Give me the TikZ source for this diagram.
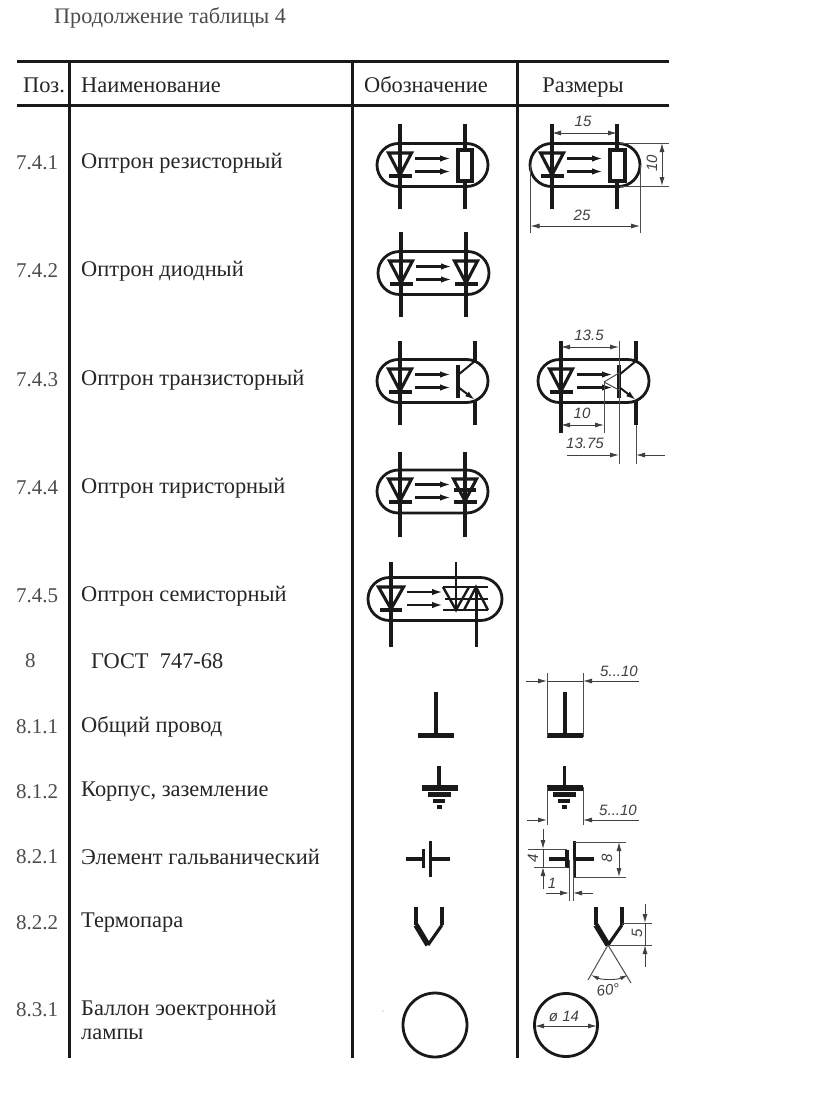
\documentclass[tikz,border=0pt]{standalone}
\usepackage{fontspec}
\setmainfont{Liberation Serif}
\setsansfont{Liberation Sans}
\usetikzlibrary{arrows.meta}
\tikzset{
 thick line/.style={line width=3pt,black!90},
 sym/.style={line width=3.1pt,black!90},
 thin sym/.style={line width=1pt,black!70},
 dim/.style={line width=0.9pt,black!75,{Latex[length=9pt,width=5pt]}-{Latex[length=9pt,width=5pt]}},
 dimone/.style={line width=0.9pt,black!75,-{Latex[length=9pt,width=5pt]}},
 ray/.style={line width=2.5pt,black!90,-{Latex[length=11pt,width=6.5pt]}},
 dimtext/.style={font=\sffamily\itshape\fontsize{15}{15}\selectfont,text=black!75,inner sep=0pt},
 txt/.style={font=\fontsize{22.4}{24}\selectfont,text=black!85,anchor=west,inner sep=0pt},
 numtxt/.style={font=\fontsize{21}{24}\selectfont,text=black!70,anchor=west,inner sep=0pt},
 head/.style={font=\fontsize{22.4}{24}\selectfont,text=black!85,anchor=base,inner sep=0pt},
 capt/.style={font=\fontsize{22.2}{24}\selectfont,text=black!70,anchor=west,inner sep=0pt},
}
\newcommand{\capsule}[3]{% left x, right x, center y (half height 21.5)
  \draw[sym,line width=2.8pt] (#1+21.5,#3-21.5) -- (#2-21.5,#3-21.5) arc[start angle=-90,end angle=90,radius=21.5] -- (#1+21.5,#3+21.5) arc[start angle=90,end angle=270,radius=21.5];}
\newcommand{\diodeV}[2]{% x, center y
  \draw[sym] (#1-11.5,#2-12) -- (#1+11.5,#2-12) -- (#1,#2+10) -- cycle;
  \draw[sym] (#1-11.5,#2+11) -- (#1+11.5,#2+11);}
\newcommand{\rays}[2]{% left x, center y
  \draw[ray] (#1,#2-6.5) -- (#1+36,#2-6.5);
  \draw[ray] (#1,#2+6.5) -- (#1+36,#2+6.5);}
\begin{document}
\begin{tikzpicture}[x=1pt,y=-1pt]
\useasboundingbox (0,0) rectangle (816,1095);
\fill[white] (0,0) rectangle (816,1095);
% table
\coordinate (hl) at (17,61); \coordinate (hr) at (669,61);
\coordinate (h2l) at (17,105); \coordinate (h2r) at (669,105);
\draw[thick line] (hl) -- (hr);
\draw[thick line] (h2l) -- (h2r);
\draw[thick line] (69,61) -- (69,1058);
\draw[thick line] (352,61) -- (352,1058);
\draw[thick line] (517,61) -- (517,1058);
% texts
\node[capt] (t0) at (54,18) {Продолжение таблицы 4};
\node[head] (h1) at (44,92) {Поз.};
\node[txt,anchor=base west] (h2) at (81,92) {Наименование};
\node[head] (h3) at (426,92) {Обозначение};
\node[head] (h4) at (583,92) {Размеры};
\node[numtxt] (r1n) at (16,163) {7.4.1};
\node[txt] (r1) at (81,163) {Оптрон резисторный};
\node[numtxt] (r2n) at (16,271) {7.4.2};
\node[txt] (r2) at (81,271) {Оптрон диодный};
\node[numtxt] (r3n) at (16,380) {7.4.3};
\node[txt] (r3) at (81,380) {Оптрон транзисторный};
\node[numtxt] (r4n) at (16,488) {7.4.4};
\node[txt] (r4) at (81,488) {Оптрон тиристорный};
\node[numtxt] (r5n) at (16,596) {7.4.5};
\node[txt] (r5) at (81,596) {Оптрон семисторный};
\node[numtxt] (r6n) at (25,661) {8};
\node[txt] (r6) at (91,661) {ГОСТ\ \ 747-68};
\node[numtxt] (r7n) at (16,727) {8.1.1};
\node[txt] (r7) at (81,727) {Общий провод};
\node[numtxt] (r8n) at (16,792) {8.1.2};
\node[txt] (r8) at (81,792) {Корпус, заземление};
\node[numtxt] (r9n) at (16,857) {8.2.1};
\node[txt] (r9) at (81,857) {Элемент гальванический};
\node[numtxt] (r10n) at (16,923) {8.2.2};
\node[txt] (r10) at (81,923) {Термопара};
\node[numtxt] (r11n) at (16,1010) {8.3.1};
\node[txt] (r11) at (81,1010) {Баллон эоектронной};
\node[txt] (r11b) at (81,1034) {лампы};
% 7.4.1 symbol
\capsule{377}{488}{165}
\draw[sym] (400,124) -- (400,209);
\draw[sym] (465,124) -- (465,209);
\diodeV{400}{165}
\rays{415}{165}
\draw[sym,fill=white] (458,150) rectangle (472,181);
% 7.4.1 dims
\capsule{530}{640}{165}
\draw[sym] (552,124) -- (552,209);
\draw[sym] (617,124) -- (617,209);
\diodeV{552}{165}
\rays{567}{165}
\draw[sym,fill=white] (610,150) rectangle (625,181);
\draw[dim] (552,133) -- (617,133);
\node[dimtext] (d15) at (583,121) {15};
\draw[thin sym] (620,143) -- (669,143);
\draw[thin sym] (620,186) -- (669,186);
\draw[dim] (662,143) -- (662,186);
\node[dimtext,rotate=90] (d10) at (652,163) {10};
\draw[thin sym] (530.5,165) -- (530.5,233);
\draw[thin sym] (640,165) -- (640,233);
\draw[dim] (530.5,226) -- (640,226);
\node[dimtext] (d25) at (582,215) {25};
% 7.4.2
\capsule{378}{489}{273}
\draw[sym] (401,232) -- (401,317);
\draw[sym,line width=3.6pt] (466,232) -- (466,317);
\diodeV{401}{273}
\rays{416}{273}
\diodeV{466}{273}
% 7.4.3
\capsule{377}{488}{381}
\draw[sym] (400,341) -- (400,425);
\draw[sym] (475,341) -- (475,361);
\draw[sym] (475,401) -- (475,425);
\diodeV{400}{381}
\rays{415}{381}
\draw[sym] (458,365) -- (458,398);
\draw[sym,line width=2pt] (458,375) -- (475,361);
\draw[line width=2pt,black!90,-{Latex[length=10pt,width=6pt]}] (458,387) -- (475,400);
% 7.4.3 dims
\capsule{538}{649}{381}
\draw[sym] (561,341) -- (561,433);
\draw[sym] (636,341) -- (636,361);
\draw[sym] (636,401) -- (636,425);
\diodeV{561}{381}
\rays{577}{381}
\draw[sym] (619,365) -- (619,398);
\draw[sym,line width=2pt] (619,375) -- (636,361);
\draw[line width=2pt,black!90,-{Latex[length=10pt,width=6pt]}] (619,387) -- (636,400);
\draw[thin sym] (619,341) -- (619,464);
\draw[thin sym] (636,425) -- (636,464);
\draw[dim] (561,347) -- (619,347);
\node[dimtext] (d135) at (589,335) {13.5};
\draw[thin sym] (604,382) -- (619,373);
\draw[thin sym] (604,382) -- (619,390);
\draw[thin sym] (604,382) -- (604,433);
\draw[dim] (561,425) -- (604,425);
\node[dimtext] (d10b) at (582,413) {10};
\draw[dimone] (567,455) -- (619,455);
\draw[dimone] (665,455) -- (636,455);
\node[dimtext] (d1375) at (585,443) {13.75};
% 7.4.4
\capsule{377}{488}{491.5}
\draw[sym] (400,452) -- (400,537);
\draw[sym] (465,452) -- (465,537);
\diodeV{400}{491}
\rays{415}{491}
\diodeV{465}{491}
\draw[sym] (454,490) -- (476,490);
% 7.4.5
\capsule{368}{502}{599}
\draw[sym,line width=3.6pt] (391,562) -- (391,647);
\draw[sym,line width=2.4pt] (456,562) -- (456,610);
\draw[sym,line width=3pt] (476,588) -- (476,647);
\draw[sym] (378.5,587) -- (403.5,587) -- (391,609) -- cycle;
\draw[sym] (380,610) -- (402,610);
\rays{407}{598.5}
\draw[sym,line width=2.4pt] (443,587) -- (488,587);
\draw[sym,line width=2.4pt] (445,599) -- (488,599);
\draw[sym,line width=2.4pt] (443,610) -- (488,610);
\draw[sym,line width=2.4pt] (443,587) -- (456,610) -- (469,587);
\draw[sym,line width=2.4pt] (464,610) -- (476,587) -- (488,610);
% 8.1.1
\draw[sym] (436,692) -- (436,735);
\draw[sym,line width=4.5pt] (418,735.5) -- (454,735.5);
\draw[sym] (565,692) -- (565,735);
\draw[sym,line width=4.5pt] (547,735.5) -- (583,735.5);
\draw[thin sym] (547,673) -- (547,737);
\draw[thin sym] (583,673) -- (583,737);
\draw[dimone] (526,681) -- (547,681);
\draw[dimone] (639,681) -- (583,681);
\draw[line width=0.9pt,black!75] (547,681) -- (583,681);
\node[dimtext] (d510) at (619,671) {5...10};
% 8.1.2
\draw[sym] (439,766) -- (439,785);
\draw[sym,line width=6pt] (422,787.5) -- (458,787.5);
\draw[sym,line width=4.5pt] (428,794.5) -- (451,794.5);
\draw[sym,line width=4pt] (433,800.5) -- (445,800.5);
\draw[sym,line width=4.5pt] (437,807) -- (442,807);
\draw[sym] (564.5,766) -- (564.5,785);
\draw[sym,line width=6pt] (547,787.5) -- (583,787.5);
\draw[sym,line width=4.5pt] (553,794.5) -- (576,794.5);
\draw[sym,line width=4pt] (558,800.5) -- (570,800.5);
\draw[sym,line width=4.5pt] (562,807) -- (567,807);
\draw[thin sym] (547,787) -- (547,825);
\draw[thin sym] (583,787) -- (583,825);
\draw[dimone] (527,820) -- (547,820);
\draw[dimone] (639,820) -- (583,820);
\node[dimtext] (d510b) at (618,810) {5...10};
% 8.2.1
\draw[sym] (406,859) -- (423,859);
\draw[sym,line width=3.5pt] (423.5,849) -- (423.5,868);
\draw[sym,line width=3.5pt] (430.5,841) -- (430.5,877);
\draw[sym] (431,859) -- (450,859);
\draw[sym] (549,859) -- (567,859);
\draw[sym,line width=3.5pt] (567,850) -- (567,868);
\draw[sym,line width=3.5pt] (574.5,841) -- (574.5,877);
\draw[sym] (575,859) -- (594,859);
\draw[thin sym] (528,849) -- (567,849);
\draw[thin sym] (534,867) -- (567,867);
\draw[thin sym] (574,842) -- (626,842);
\draw[thin sym] (574,877) -- (626,877);
\draw[dim] (619,842) -- (619,877);
\node[dimtext,rotate=90] (d8) at (607,858) {8};
\draw[dimone] (543,829) -- (543,849);
\draw[dimone] (543,889) -- (543,867);
\draw[line width=0.9pt,black!75] (543,849) -- (543,867);
\node[dimtext,rotate=90] (d4) at (533,858) {4};
\draw[thin sym] (569,860) -- (569,901);
\draw[thin sym] (573,860) -- (573,901);
\draw[dimone] (546,893) -- (569,893);
\draw[dimone] (593,893) -- (573,893);
\node[dimtext] (d1) at (552,883) {1};
% 8.2.2
\draw[sym] (416,907) -- (416,925);
\draw[sym] (442,907) -- (442,925);
\draw[line width=5.5pt,black!90] (416,925) -- (428,945);
\draw[line width=3.1pt,black!90] (442,925) -- (428,945);
\draw[sym] (596,907) -- (596,925);
\draw[sym] (622,907) -- (622,925);
\draw[line width=5.5pt,black!90] (596,925) -- (608,945);
\draw[line width=3.1pt,black!90] (622,925) -- (608,945);
\draw[thin sym] (622,923) -- (652,923);
\draw[thin sym] (608,945) -- (652,945);
\draw[dimone] (645,904) -- (645,923);
\draw[dimone] (645,967) -- (645,945);
\draw[line width=0.9pt,black!75] (645,923) -- (645,945);
\node[dimtext,rotate=90] (d5) at (637,933) {5};
\draw[thin sym] (608,945) -- (588,980);
\draw[thin sym] (608,945) -- (631,983);
\draw[line width=0.9pt,black!75,{Latex[length=8pt,width=4pt]}-{Latex[length=8pt,width=4pt]}] (591,975) .. controls (602,980) and (617,980) .. (628,975);
\node[dimtext,rotate=8] (d60) at (608,990) {60°};
% 8.3.1
\draw[line width=2.8pt,black!90] (435,1025) circle[radius=32];
\draw[line width=2.8pt,black!90] (566,1025) circle[radius=31.5];
\draw[dim] (535,1026) -- (597,1026);
\node[dimtext] (d14) at (564,1016) {ø 14};
\fill[black!40] (383,1011) circle[radius=0.7];
\end{tikzpicture}
\end{document}
